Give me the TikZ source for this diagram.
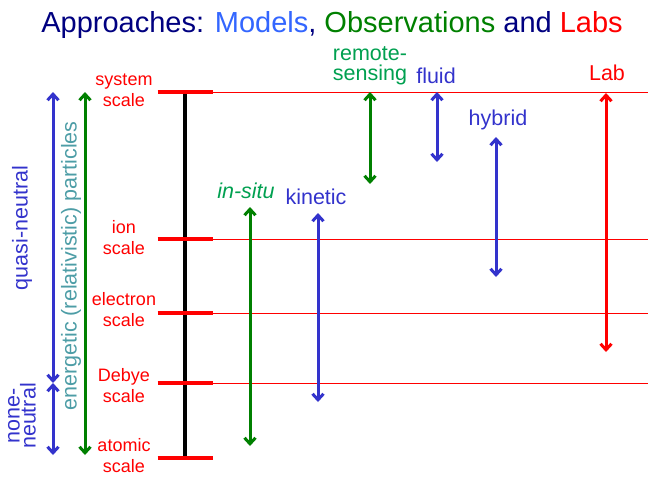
\documentclass[tikz,border=0pt]{standalone}
\usepackage{fontspec}
\setmainfont{Liberation Sans}
\usetikzlibrary{arrows.meta}
\definecolor{titleblue}{RGB}{0,0,128}
\definecolor{modelblue}{RGB}{51,102,255}
\definecolor{obsgreen}{RGB}{0,128,0}
\definecolor{labred}{RGB}{255,0,0}
\definecolor{rangeblue}{RGB}{51,51,204}
\definecolor{textgreen}{RGB}{0,160,80}
\definecolor{particlecol}{RGB}{77,157,166}
\tikzset{
  scalelabel/.style={text=labred, font=\fontsize{18}{21}\selectfont, align=center, inner sep=0pt},
  tick/.style={draw=labred, line width=4.5pt},
  level/.style={draw=labred, line width=1pt},
  ladder/.style={draw=black, line width=3.5pt},
  spanarrow/.style={{Straight Barb[length=6pt,width=11pt]}-{Straight Barb[length=6pt,width=11pt]}, line width=3pt},
  spanlabel/.style={font=\fontsize{21.5}{20}\selectfont, align=center, inner sep=0pt}
}

\begin{document}
\begin{tikzpicture}[x=1pt, y=-1pt]
\useasboundingbox (0,0) rectangle (648,477);

\node[anchor=base, font=\fontsize{29}{34}\selectfont] (title) at (332,32) {\textcolor{titleblue}{Approaches:} \textcolor{modelblue}{Models}\textcolor{titleblue}{,} \textcolor{obsgreen}{Observations} \textcolor{titleblue}{and} \textcolor{labred}{Labs}};

% scale levels
\foreach \y/\ly/\name/\txt in {92/90/sys/system, 239/238/ion/ion, 313/310/ele/electron, 383/386/deb/Debye, 458/456/atm/atomic}{
  \coordinate (\name) at (185,\y);
  \node[scalelabel] (\name-lbl) at (124,\ly) {\txt\\scale};
}
\draw[ladder] (sys) -- (atm);
\foreach \name in {sys, ion, ele, deb, atm}
  \draw[tick] ([xshift=-27.5pt]\name) -- ([xshift=27.5pt]\name);
\foreach \name in {sys, ion, ele, deb}
  \draw[level] ([xshift=27.5pt]\name) -- ([xshift=463pt]\name);

% plasma regimes
\coordinate (qn-top) at (53,92);
\coordinate (qn-mid) at (53,383);
\coordinate (qn-bot) at (53,455);
\draw[spanarrow, rangeblue] (qn-top) -- (qn-mid);
\draw[spanarrow, rangeblue] (qn-mid) -- (qn-bot);
\node[spanlabel, rotate=90, text=rangeblue] (quasi) at (22,228) {quasi-neutral};
\node[spanlabel, rotate=90, text=rangeblue, font=\fontsize{21.5}{16}\selectfont] (none) at (22,416) {none-\\neutral};

\coordinate (ep-top) at (85,92);
\coordinate (ep-bot) at (85,455);
\draw[spanarrow, obsgreen] (ep-top) -- (ep-bot);
\node[spanlabel, rotate=90, text=particlecol] (ep) at (71,266) {energetic (relativistic) particles};

% approaches
\coordinate (ins-top) at (250,207);
\coordinate (ins-bot) at (250,446);
\draw[spanarrow, obsgreen] (ins-top) -- (ins-bot);
\node[spanlabel, text=textgreen] (ins) at (246,191) {\itshape in-situ};

\coordinate (kin-top) at (318,213);
\coordinate (kin-bot) at (318,402);
\draw[spanarrow, rangeblue] (kin-top) -- (kin-bot);
\node[spanlabel, text=rangeblue] (kin) at (316,197) {kinetic};

\coordinate (rs-top) at (370,92);
\coordinate (rs-bot) at (370,184);
\draw[spanarrow, obsgreen] (rs-top) -- (rs-bot);
\node[spanlabel, text=textgreen] (rs) at (370,66) {remote-\\sensing};

\coordinate (fl-top) at (437,92);
\coordinate (fl-bot) at (437,162);
\draw[spanarrow, rangeblue] (fl-top) -- (fl-bot);
\node[spanlabel, text=rangeblue] (fl) at (436,76) {fluid};

\coordinate (hy-top) at (496,137);
\coordinate (hy-bot) at (496,277);
\draw[spanarrow, rangeblue] (hy-top) -- (hy-bot);
\node[spanlabel, text=rangeblue] (hy) at (498,120) {hybrid};

\coordinate (lab-top) at (606,93);
\coordinate (lab-bot) at (606,352);
\draw[spanarrow, labred] (lab-top) -- (lab-bot);
\node[spanlabel, text=labred] (lab) at (607,73) {Lab};

\end{tikzpicture}
\end{document}
